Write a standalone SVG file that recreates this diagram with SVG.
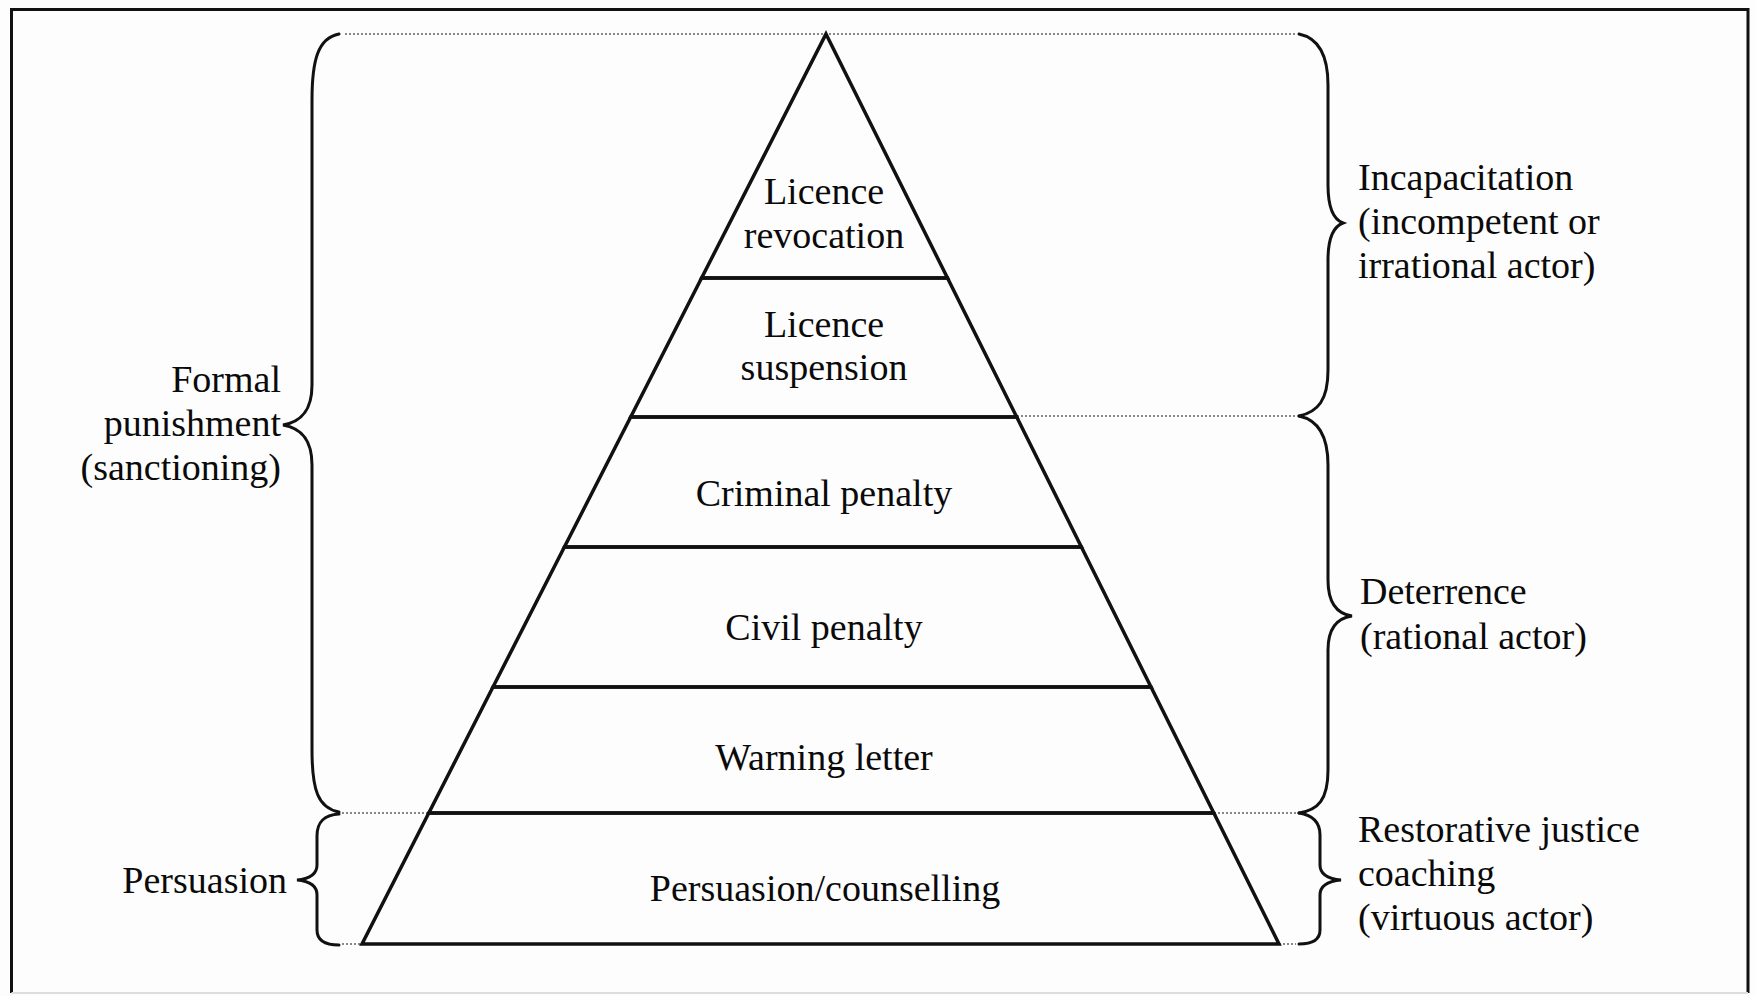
<svg xmlns="http://www.w3.org/2000/svg" width="1756" height="996" viewBox="0 0 1756 996">
<style>
text{font-family:"Liberation Serif","Times New Roman",serif;font-size:38px;fill:#0a0a0a}
.c{text-anchor:middle}
.r{text-anchor:end}
.layer{fill:none;stroke:#111;stroke-width:3.5;stroke-linejoin:miter}
.brace{fill:none;stroke:#111;stroke-width:3;stroke-linecap:round}
.dot{stroke:#888;stroke-width:2;stroke-dasharray:2 2;fill:none}
</style>
<rect x="0" y="0" width="1756" height="996" fill="#fdfdfd"/>
<path d="M11.5 993 L11.5 9.5 L1748 9.5 L1748 993" fill="none" stroke="#111" stroke-width="3"/>
<line x1="11.5" y1="993" x2="1748" y2="993" stroke="#ddd" stroke-width="2"/>

<g id="connectors">
<line class="dot" x1="345" y1="34" x2="1296" y2="34"/>
<line class="dot" x1="1017" y1="416" x2="1296" y2="416"/>
<line class="dot" x1="342" y1="813" x2="429" y2="813"/>
<line class="dot" x1="1214" y1="813" x2="1296" y2="813"/>
<line class="dot" x1="342" y1="944" x2="362" y2="944"/>
<line class="dot" x1="1279" y1="944" x2="1296" y2="944"/>
</g>

<g id="layer-revocation">
<polygon class="layer" points="826,34 947.5,278 701.6,278"/>
<text class="c" x="824" y="204">Licence</text>
<text class="c" x="824" y="248">revocation</text>
</g>
<g id="layer-suspension">
<polygon class="layer" points="701.6,278 947.5,278 1016.7,417 630.7,417"/>
<text class="c" x="824" y="337">Licence</text>
<text class="c" x="824" y="380">suspension</text>
</g>
<g id="layer-criminal">
<polygon class="layer" points="630.7,417 1016.7,417 1081.4,547 564.4,547"/>
<text class="c" x="824" y="506">Criminal penalty</text>
</g>
<g id="layer-civil">
<polygon class="layer" points="564.4,547 1081.4,547 1151,687 493,687"/>
<text class="c" x="824" y="640">Civil penalty</text>
</g>
<g id="layer-warning">
<polygon class="layer" points="493,687 1151,687 1213.8,813 428.8,813"/>
<text class="c" x="824" y="770">Warning letter</text>
</g>
<g id="layer-persuasion">
<polygon class="layer" points="428.8,813 1213.8,813 1279,944 362,944"/>
<text class="c" x="825" y="901">Persuasion/counselling</text>
</g>

<g id="brace-formal">
<path class="brace" d="M339 34 C318 38 312 60 312 100 L312 385 C312 412 300 422 283 425 C300 428 312 438 312 465 L312 750 C312 790 318 808 339 812"/>
<text class="r" x="281" y="392">Formal</text>
<text class="r" x="281" y="436">punishment</text>
<text class="r" x="281" y="480">(sanctioning)</text>
</g>
<g id="brace-persuasion">
<path class="brace" d="M339 814 C325 815 317 821 317 836 L317 865 C317 875 308 879 297 880 C308 881 317 885 317 895 L317 930 C317 940 325 945 339 945"/>
<text class="r" x="287" y="893">Persuasion</text>
</g>
<g id="brace-incapacitation">
<path class="brace" d="M1299 34 C1318 38 1328 55 1328 85 L1328 185 C1328 210 1335 220 1343 223 C1335 226 1328 236 1328 260 L1328 370 C1328 400 1318 412 1299 416"/>
<text x="1358" y="190">Incapacitation</text>
<text x="1358" y="234">(incompetent or</text>
<text x="1358" y="278">irrational actor)</text>
</g>
<g id="brace-deterrence">
<path class="brace" d="M1299 416 C1318 420 1328 435 1328 465 L1328 580 C1328 605 1338 614 1352 616 C1338 618 1328 628 1328 650 L1328 770 C1328 800 1318 810 1299 813"/>
<text x="1360" y="604">Deterrence</text>
<text x="1360" y="649">(rational actor)</text>
</g>
<g id="brace-restorative">
<path class="brace" d="M1299 813 C1312 815 1320 822 1320 835 L1320 865 C1320 875 1330 879 1341 880 C1330 881 1320 885 1320 895 L1320 930 C1320 940 1312 944 1299 944"/>
<text x="1358" y="842">Restorative justice</text>
<text x="1358" y="886">coaching</text>
<text x="1358" y="930">(virtuous actor)</text>
</g>
</svg>
